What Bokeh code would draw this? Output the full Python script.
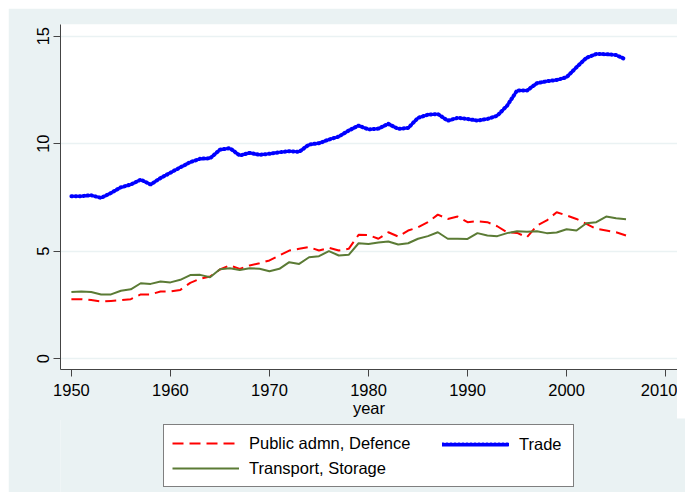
from bokeh.plotting import figure
from bokeh.layouts import column
from bokeh.models import Range1d, FixedTicker, Legend, LegendItem
from bokeh.embed import file_html
from bokeh.resources import INLINE

years = list(range(1950, 2007))

trade = [7.56, 7.56, 7.6, 7.48, 7.71, 7.97, 8.1, 8.33, 8.1, 8.4,
         8.65, 8.9, 9.14, 9.3, 9.32, 9.72, 9.79, 9.45, 9.57, 9.48,
         9.53, 9.6, 9.65, 9.62, 9.96, 10.02, 10.19, 10.33, 10.61, 10.84,
         10.66, 10.7, 10.92, 10.69, 10.73, 11.2, 11.35, 11.38, 11.07, 11.2,
         11.15, 11.07, 11.15, 11.3, 11.77, 12.47, 12.47, 12.81, 12.9, 12.96,
         13.09, 13.55, 13.99, 14.17, 14.16, 14.12, 13.91]

public_admn = [2.77, 2.77, 2.73, 2.66, 2.69, 2.72, 2.77, 2.99, 2.99, 3.13,
               3.13, 3.2, 3.53, 3.72, 3.82, 4.15, 4.34, 4.18, 4.34, 4.44,
               4.57, 4.8, 5.03, 5.11, 5.19, 5.03, 5.16, 5.03, 5.11, 5.76,
               5.75, 5.58, 5.88, 5.68, 5.96, 6.11, 6.35, 6.7, 6.5, 6.61,
               6.35, 6.39, 6.35, 6.16, 5.88, 5.85, 5.65, 6.19, 6.43, 6.81,
               6.66, 6.5, 6.27, 6.04, 5.96, 5.88, 5.73]

transport = [3.1, 3.13, 3.1, 2.99, 2.99, 3.16, 3.23, 3.51, 3.48, 3.59,
             3.55, 3.67, 3.89, 3.9, 3.79, 4.16, 4.21, 4.13, 4.21, 4.18,
             4.07, 4.18, 4.49, 4.41, 4.72, 4.77, 5.0, 4.8, 4.83, 5.37,
             5.34, 5.4, 5.45, 5.31, 5.37, 5.58, 5.7, 5.88, 5.58, 5.58,
             5.57, 5.84, 5.73, 5.7, 5.84, 5.93, 5.9, 5.93, 5.84, 5.87,
             6.02, 5.96, 6.3, 6.35, 6.61, 6.53, 6.49]

labels = ["Public admn, Defence", "Transport, Storage", "Trade"]
x_ticks = [1950, 1960, 1970, 1980, 1990, 2000, 2010]
y_ticks = [0, 5, 10, 15]

BG = "#EAF2F3"
FONT = "Liberation Sans"
FS = "16.5px"
C_PUB, C_TRADE, C_TR = "#FF0000", "#0000FF", "#5B7B35"

p = figure(frame_width=617, frame_height=345, output_backend="svg",
           toolbar_location=None,
           x_range=Range1d(1948.9, 2011.2), y_range=Range1d(-0.5, 15.54),
           min_border_left=52, min_border_top=16, min_border_right=0,
           min_border_bottom=51)
p.margin = (8, 0, 0, 8)
p.background_fill_color = "white"
p.border_fill_color = BG
p.border_fill_alpha = 1
p.outline_line_color = None

p.xgrid.visible = False
p.ygrid.grid_line_color = BG
p.ygrid.grid_line_width = 1.5
p.ygrid.ticker = FixedTicker(ticks=y_ticks)

for ax in (p.xaxis[0], p.yaxis[0]):
    ax.axis_line_color = "#444444"
    ax.major_tick_line_color = "#444444"
    ax.major_tick_out = 7
    ax.major_tick_in = 0
    ax.minor_tick_out = 0
    ax.minor_tick_in = 0
    ax.major_label_text_font = FONT
    ax.major_label_text_font_size = FS
    ax.major_label_text_color = "black"
    ax.major_label_standoff = 7

p.xaxis.ticker = FixedTicker(ticks=x_ticks)
p.yaxis.ticker = FixedTicker(ticks=y_ticks)
p.yaxis.major_label_orientation = "vertical"
p.yaxis.major_label_standoff = 4
p.xaxis.axis_label = "year"
p.xaxis.axis_label_text_font = FONT
p.xaxis.axis_label_text_font_size = FS
p.xaxis.axis_label_text_font_style = "normal"
p.xaxis.axis_label_text_color = "black"
p.xaxis.axis_label_standoff = 0

p.line(years, public_admn, line_color=C_PUB, line_width=2, line_dash="11 6")
p.line(years, trade, line_color=C_TRADE, line_width=4, line_dash="1 3",
       line_cap="round")
p.line(years, transport, line_color=C_TR, line_width=2)

# legend strip below the chart (its lines lie outside its ranges)
p2 = figure(width=677, height=74, output_backend="svg", toolbar_location=None,
            x_range=Range1d(0, 1), y_range=Range1d(0, 1),
            x_axis_location=None, y_axis_location=None,
            min_border_left=0, min_border_right=0, min_border_top=0,
            min_border_bottom=0)
p2.margin = (-2, 0, 0, 8)
p2.background_fill_color = BG
p2.border_fill_color = BG
p2.border_fill_alpha = 1
p2.outline_line_color = None
p2.grid.visible = False

l_pub = p2.line(years, public_admn, line_color=C_PUB, line_width=2,
                line_dash="11 6")
l_tr = p2.line(years, transport, line_color=C_TR, line_width=2)
l_trade = p2.line(years, trade, line_color=C_TRADE, line_width=4,
                  line_dash="1 3", line_cap="round")


def style(lg):
    lg.label_text_font = FONT
    lg.label_text_font_size = FS
    lg.label_text_color = "black"
    lg.glyph_width = 67
    lg.glyph_height = 18
    lg.label_height = 20
    lg.label_standoff = 10
    lg.spacing = 5
    lg.margin = 0


legend_a = Legend(items=[
    LegendItem(label=labels[0], renderers=[l_pub]),
    LegendItem(label=labels[1], renderers=[l_tr]),
], location=(103, 5))
style(legend_a)
legend_a.padding = 8
legend_a.label_width = 316
legend_a.border_line_color = "black"
legend_a.border_line_width = 1
legend_a.background_fill_color = "white"
legend_a.background_fill_alpha = 1

legend_b = Legend(items=[
    LegendItem(label=labels[2], renderers=[l_trade]),
], location=(382, 38))
style(legend_b)
legend_b.padding = 0
legend_b.border_line_color = None
legend_b.background_fill_alpha = 0

p2.add_layout(legend_a, "center")
p2.add_layout(legend_b, "center")

layout = column(p, p2, spacing=0)
open("out.html", "w").write(file_html(layout, INLINE))
